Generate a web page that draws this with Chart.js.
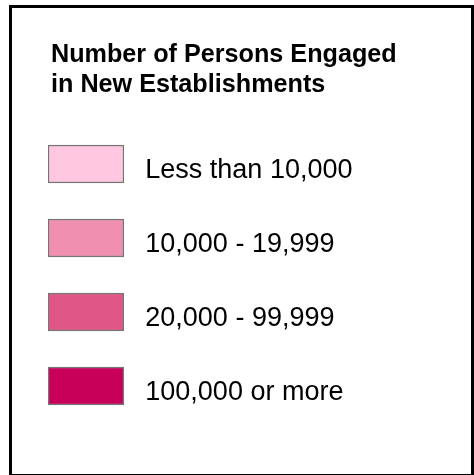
<!DOCTYPE html>
<html>
<head>
<meta charset="utf-8">
<script src="https://cdn.jsdelivr.net/npm/chart.js@4.4.1/dist/chart.umd.min.js"></script>
<style>
  html, body { margin: 0; padding: 0; background: #ffffff; }
  #wrap { width: 474px; height: 475px; position: relative; }
</style>
</head>
<body>
<div id="wrap"><canvas id="c"></canvas></div>
<script>
// ---- data ----
const titleLines = ['Number of Persons Engaged', 'in New Establishments'];
const categories = ['Less than 10,000', '10,000 - 19,999', '20,000 - 99,999', '100,000 or more'];
const swatchValues = [1, 1, 1, 1];
const swatchColors = ['#ffc8e0', '#f08fb0', '#de5586', '#c8005a'];

// ---- plugin: frame, title and class labels ----
const legendText = {
  id: 'legendText',
  beforeDraw(chart) {
    const ctx = chart.ctx;
    ctx.save();
    ctx.fillStyle = '#ffffff';
    ctx.fillRect(0, 0, chart.width, chart.height);
    ctx.restore();
  },
  afterDraw(chart) {
    const ctx = chart.ctx;
    const y = chart.scales.y;
    ctx.save();
    // frame
    ctx.strokeStyle = '#000000';
    ctx.lineWidth = 3;
    ctx.strokeRect(10.5, 6.5, 462, 469);
    // title
    ctx.fillStyle = '#000000';
    ctx.textAlign = 'left';
    ctx.textBaseline = 'alphabetic';
    ctx.font = 'bold 25.2px "Liberation Sans", Arial, sans-serif';
    titleLines.forEach((t, i) => ctx.fillText(t, 51, 62 + i * 30));
    // labels
    ctx.font = '27px "Liberation Sans", Arial, sans-serif';
    categories.forEach((c, i) => {
      ctx.fillText(c, 145.3, y.getPixelForValue(i) + 13.5);
    });
    ctx.restore();
  }
};

new Chart(document.getElementById('c'), {
  type: 'bar',
  data: {
    labels: categories,
    datasets: [{
      data: swatchValues,
      backgroundColor: swatchColors,
      borderColor: '#757575',
      borderWidth: 1.5,
      borderSkipped: false,
      barThickness: 38
    }]
  },
  options: {
    indexAxis: 'y',
    responsive: true,
    maintainAspectRatio: false,
    animation: false,
    events: [],
    layout: { padding: { left: 48, right: 350, top: 127, bottom: 52 } },
    scales: {
      x: { display: false, min: 0, max: 1 },
      y: { display: false, offset: true }
    },
    plugins: {
      legend: { display: false },
      tooltip: { enabled: false },
      title: { display: false }
    }
  },
  plugins: [legendText]
});
</script>
</body>
</html>
